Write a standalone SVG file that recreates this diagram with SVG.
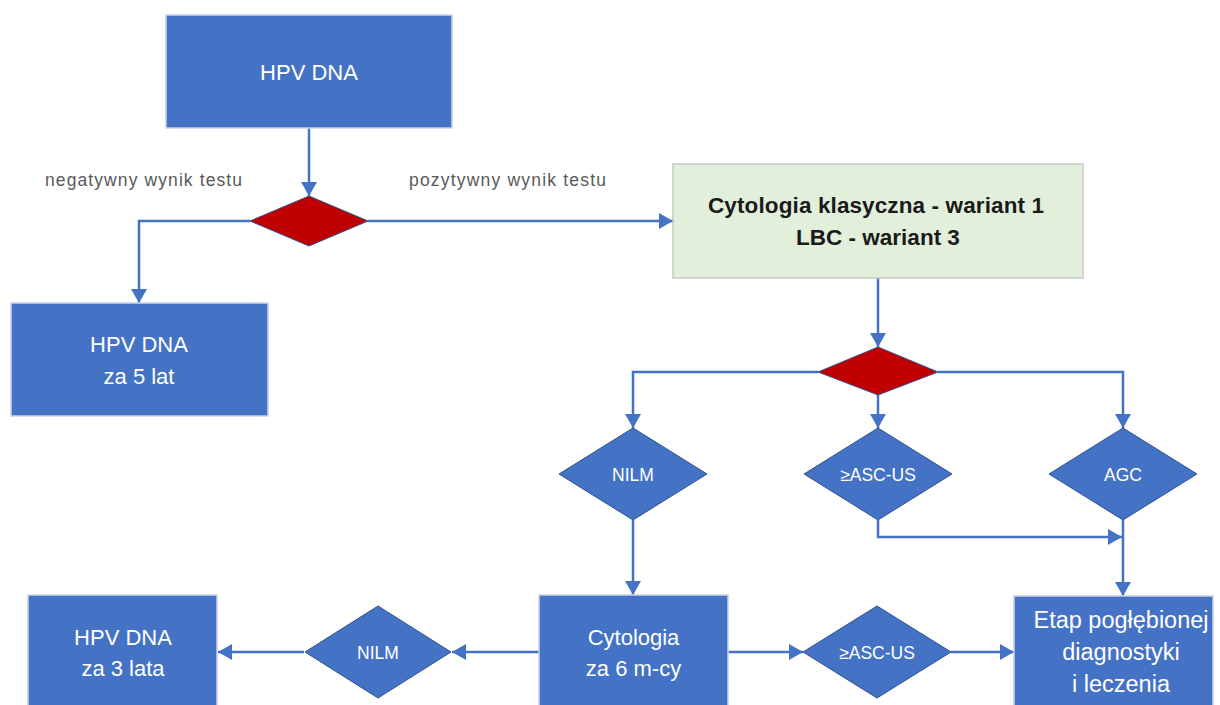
<svg xmlns="http://www.w3.org/2000/svg" width="1220" height="705" viewBox="0 0 1220 705">
<defs>
<marker id="ah" markerUnits="userSpaceOnUse" markerWidth="15" markerHeight="16" refX="14" refY="8" orient="auto">
<path d="M0,0 L14,8 L0,16 z" fill="#4472C4"/>
</marker>
<style>
.box{fill:#4472C4;stroke:#C9D3E6;stroke-width:1.5}
.green{fill:#E2EFDA;stroke:#C8C8C8;stroke-width:1.5}
.dia{fill:#4472C4;stroke:#2F528F;stroke-width:1}
.red{fill:#C00000;stroke:#2F528F;stroke-width:1}
.wt{font-family:"Liberation Sans",Arial,sans-serif;font-size:22px;fill:#FFFFFF;text-anchor:middle}
.et{font-family:"Liberation Sans",Arial,sans-serif;font-size:23.5px;fill:#FFFFFF;text-anchor:middle}
.dt{font-family:"Liberation Sans",Arial,sans-serif;font-size:17.5px;fill:#FFFFFF;text-anchor:middle}
.bt{font-family:"Liberation Sans",Arial,sans-serif;font-size:22.5px;font-weight:bold;fill:#1A1A1A;text-anchor:middle}
.lbl{font-family:"Liberation Sans",Arial,sans-serif;font-size:17.5px;fill:#595959}
.c{fill:none;stroke:#4472C4;stroke-width:2.5}
</style>
</defs>
<rect width="1220" height="705" fill="#FFFFFF"/>
<g id="connectors">
<path class="c" d="M309,128 V196" marker-end="url(#ah)"/>
<path class="c" d="M250,221 H139 V303" marker-end="url(#ah)"/>
<path class="c" d="M368,221 H673" marker-end="url(#ah)"/>
<path class="c" d="M878,278 V347" marker-end="url(#ah)"/>
<path class="c" d="M818,372 H633 V428" marker-end="url(#ah)"/>
<path class="c" d="M878,395 V428" marker-end="url(#ah)"/>
<path class="c" d="M938,372 H1123 V428" marker-end="url(#ah)"/>
<path class="c" d="M633,520 V595" marker-end="url(#ah)"/>
<path class="c" d="M878,520 V537 H1122" marker-end="url(#ah)"/>
<path class="c" d="M1123,520 V596" marker-end="url(#ah)"/>
<path class="c" d="M539,652 H452" marker-end="url(#ah)"/>
<path class="c" d="M304,652 H218" marker-end="url(#ah)"/>
<path class="c" d="M728,652 H803" marker-end="url(#ah)"/>
<path class="c" d="M951,652 H1014" marker-end="url(#ah)"/>
<text class="lbl" x="45" y="186" textLength="197">negatywny wynik testu</text>
<text class="lbl" x="409" y="186" textLength="197">pozytywny wynik testu</text>
</g>
<g id="hpv-dna">
<rect class="box" x="166" y="15" width="286" height="113"/>
<text class="wt" x="309" y="80">HPV DNA</text>
</g>
<g id="decision-1">
<polygon class="red" points="309,196 368,221 309,246 250,221"/>
</g>
<g id="hpv-5-lat">
<rect class="box" x="11" y="303" width="257" height="113"/>
<text class="wt" x="139" y="352">HPV DNA</text>
<text class="wt" x="139" y="384">za 5 lat</text>
</g>
<g id="cytologia-klasyczna">
<rect class="green" x="673" y="164" width="410" height="114"/>
<text class="bt" x="876" y="213" textLength="336">Cytologia klasyczna - wariant 1</text>
<text class="bt" x="878" y="245">LBC - wariant 3</text>
</g>
<g id="decision-2">
<polygon class="red" points="878,347 938,372 878,395 818,372"/>
</g>
<g id="nilm-1">
<polygon class="dia" points="633,428 707,474 633,520 559,474"/>
<text class="dt" x="633" y="481">NILM</text>
</g>
<g id="ascus-1">
<polygon class="dia" points="878,428 952,474 878,520 804,474"/>
<text class="dt" x="878" y="481">≥ASC-US</text>
</g>
<g id="agc">
<polygon class="dia" points="1123,428 1197,474 1123,520 1049,474"/>
<text class="dt" x="1123" y="481">AGC</text>
</g>
<g id="hpv-3-lata">
<rect class="box" x="28" y="595" width="189" height="120"/>
<text class="wt" x="123" y="645">HPV DNA</text>
<text class="wt" x="123" y="676">za 3 lata</text>
</g>
<g id="nilm-2">
<polygon class="dia" points="378,606 451,652 378,698 305,652"/>
<text class="dt" x="378" y="659">NILM</text>
</g>
<g id="cytologia-6">
<rect class="box" x="539" y="595" width="189" height="120"/>
<text class="wt" x="633.5" y="645">Cytologia</text>
<text class="wt" x="633.5" y="676">za 6 m-cy</text>
</g>
<g id="ascus-2">
<polygon class="dia" points="877,606 951,652 877,698 803,652"/>
<text class="dt" x="877" y="659">≥ASC-US</text>
</g>
<g id="etap">
<rect class="box" x="1014" y="596" width="199" height="120"/>
<text class="et" x="1121" y="628">Etap pogłębionej</text>
<text class="et" x="1121" y="660">diagnostyki</text>
<text class="et" x="1121" y="692">i leczenia</text>
</g>
</svg>
